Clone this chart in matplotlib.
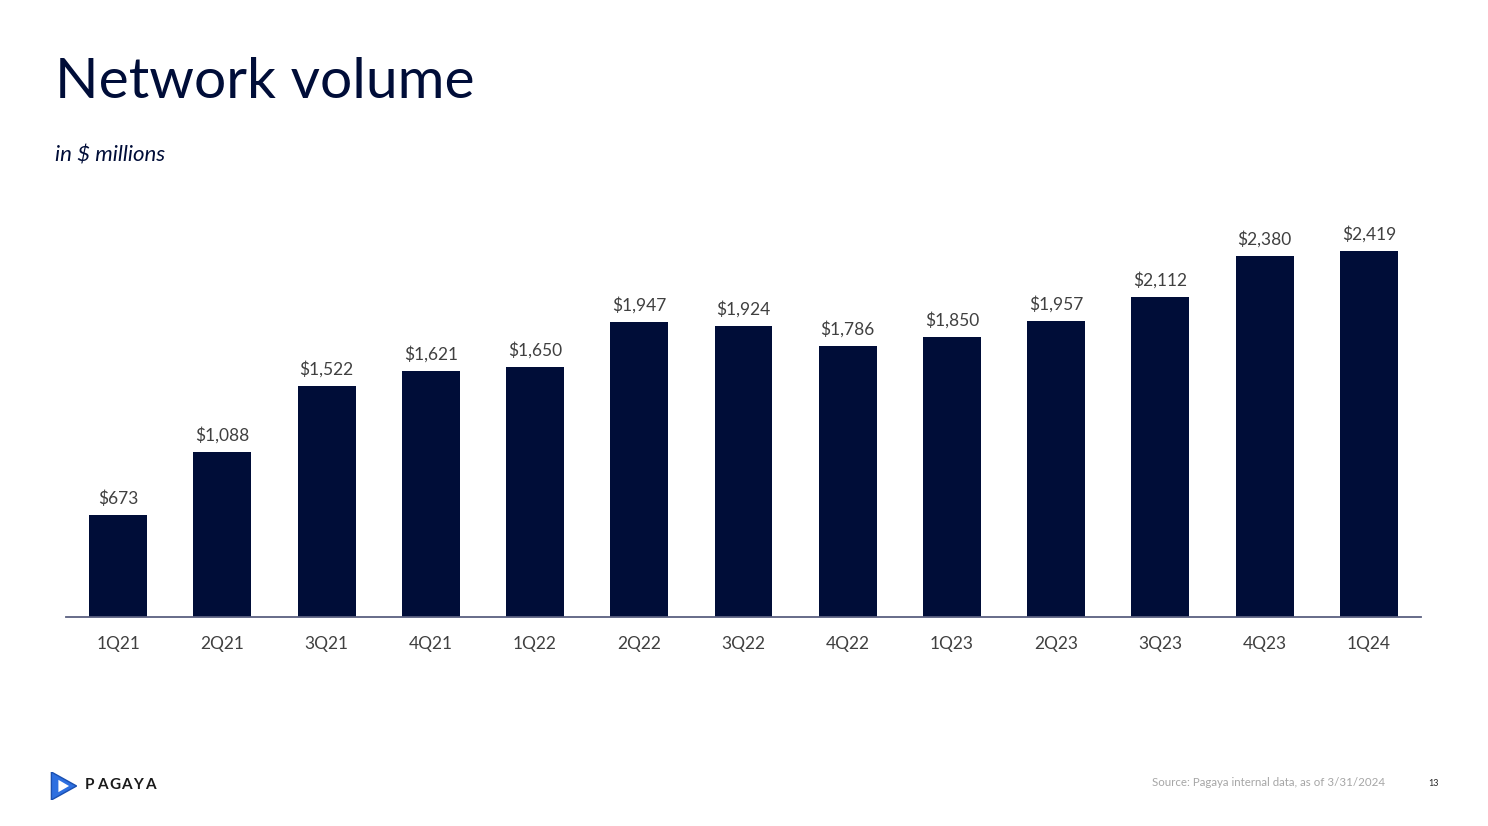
import matplotlib
matplotlib.use("Agg")
import matplotlib.pyplot as plt
from matplotlib.patches import Polygon

categories = ["1Q21", "2Q21", "3Q21", "4Q21", "1Q22", "2Q22", "3Q22",
              "4Q22", "1Q23", "2Q23", "3Q23", "4Q23", "1Q24"]
values = [673, 1088, 1522, 1621, 1650, 1947, 1924, 1786, 1850, 1957, 2112, 2380, 2419]
value_labels = ["$673", "$1,088", "$1,522", "$1,621", "$1,650", "$1,947", "$1,924",
                "$1,786", "$1,850", "$1,957", "$2,112", "$2,380", "$2,419"]

plt.rcParams['font.family'] = ['Lato', 'DejaVu Sans']
NAVY = "#000D38"
W, H = 1488, 826
fig = plt.figure(figsize=(W / 100, H / 100), dpi=100)
fig.patch.set_facecolor("white")

ax = fig.add_axes([66 / W, (H - 617) / H, (1421 - 66) / W, (617 - 200) / H])
x = list(range(len(categories)))
bars = ax.bar(x, values, width=0.555, color=NAVY, zorder=2)
ax.set_xlim(-0.5, len(categories) - 0.5)
ax.set_ylim(0, 417 / 0.1515)
for rect, lab in zip(bars, value_labels):
    ax.annotate(lab, (rect.get_x() + rect.get_width() / 2, rect.get_height()),
                xytext=(0, 6), textcoords="offset points", ha="center", va="bottom",
                fontsize=12.5, color="#404040")
ax.set_xticks(x)
ax.set_xticklabels(categories, fontsize=12.5, color="#404040")
ax.tick_params(axis="x", length=0, pad=14)
ax.set_yticks([])
for s in ["top", "right", "left"]:
    ax.spines[s].set_visible(False)
ax.spines["bottom"].set_color("#5A6080")
ax.spines["bottom"].set_linewidth(1.3)
ax.set_facecolor("none")

fig.text(55 / W, 1 - 82 / H, "Network volume", fontsize=41, color=NAVY,
         va="center", ha="left")
fig.text(55 / W, 1 - 155 / H, "in $ millions", fontsize=16, style="italic",
         color=NAVY, va="center", ha="left")

# logo
lax = fig.add_axes([50 / W, 1 - 800 / H, 28 / W, 28 / H])
lax.set_xlim(0, 1)
lax.set_ylim(0, 1)
lax.axis("off")
lax.add_patch(Polygon([[0.05, 0.0], [0.05, 1.0], [0.95, 0.5]], closed=True,
                      facecolor="#2D6FE0", edgecolor="#1A4FB0", linewidth=1))
lax.add_patch(Polygon([[0.3, 0.28], [0.3, 0.72], [0.68, 0.5]], closed=True,
                      facecolor="white", edgecolor="none"))
for i, ch in enumerate("PAGAYA"):
    fig.text((85 + i * 12) / W, 1 - 785 / H, ch, fontsize=11, fontweight="bold",
             color="#1A1A1A", va="center", ha="left")

fig.text(1385 / W, 1 - 782 / H, "Source: Pagaya internal data, as of 3/31/2024",
         fontsize=8.3, color="#A6A6A6", va="center", ha="right")
fig.text(1434 / W, 1 - 783 / H, "13", fontsize=6.5, color="#262626",
         va="center", ha="center")

fig.savefig("out.png", dpi=100, facecolor="white")
